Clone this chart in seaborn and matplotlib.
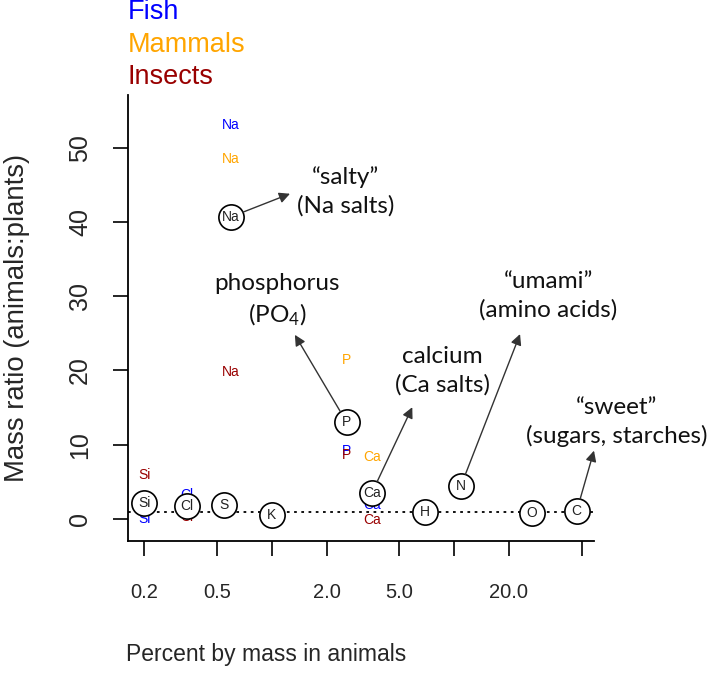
import numpy as np
import pandas as pd
import matplotlib
matplotlib.use("Agg")
import matplotlib.pyplot as plt
import seaborn as sns

# element values
elements = ['Si', 'Cl', 'S', 'K', 'Na', 'P', 'Ca', 'H', 'N', 'O', 'C']
pct_animals = [0.2, 0.343, 0.55, 1.0, 0.6, 2.58, 3.54, 6.9, 10.9, 26.6, 47.0]
ratio_all = [2.1, 1.75, 1.9, 0.55, 40.7, 13.0, 3.5, 1.0, 4.45, 0.8, 1.05]

fish_el = ['Si', 'Cl', 'Na', 'P', 'Ca']
fish_ratio = [0.0, 3.2, 53.1, 9.2, 1.9]
mammal_el = ['Na', 'P', 'Ca']
mammal_ratio = [48.5, 21.4, 8.4]
insect_el = ['Si', 'Cl', 'Na', 'P', 'Ca']
insect_ratio = [5.9, 0.3, 19.85, 8.6, -0.1]

x_ticks = [0.2, 0.5, 1, 2, 5, 10, 20, 50]
x_ticklabels = ['0.2', '0.5', '', '2.0', '5.0', '', '20.0', '']
y_ticks = [0, 10, 20, 30, 40, 50]

# annotations: text, element the arrow starts from, arrow tip, text centre
ann_text = ['\u201csalty\u201d\n(Na salts)', 'phosphorus\n(PO$\\mathregular{_4}$)',
            'calcium\n(Ca salts)', '\u201cumami\u201d\n(amino acids)',
            '\u201csweet\u201d\n(sugars, starches)']
ann_from = ['Na', 'P', 'Ca', 'N', 'C']
ann_tip_x = [1.26, 1.34, 5.9, 23.0, 58.5]
ann_tip_y = [43.8, 24.8, 15.05, 24.9, 9.2]
ann_text_x = [2.55, 1.07, 8.6, 32.8, 77.8]
ann_text_y = [44.1, 29.4, 20.0, 30.0, 13.1]

groups = [('Fish', 'blue', fish_el, fish_ratio),
          ('Mammals', 'orange', mammal_el, mammal_ratio),
          ('Insects', '#990000', insect_el, insect_ratio)]

sns.set_theme(style='white')
plt.rcParams['font.family'] = ['Liberation Sans', 'DejaVu Sans']
plt.rcParams['mathtext.default'] = 'regular'

df = pd.DataFrame({'element': elements, 'pct': pct_animals, 'ratio': ratio_all})
pos = dict(zip(elements, zip(pct_animals, ratio_all)))

fig = plt.figure(figsize=(7.09, 6.77), dpi=100)
ax = fig.add_axes([128/709, 1-541/677, 466/709, 446/677])
ax.set_xscale('log')
ax.set_xlim(0.163, 58.5)
ax.set_ylim(-2.97, 57.1)

ax.axhline(1, color='black', lw=1.3, ls=(0, (1.5, 2.5)), zorder=1)

# coloured labels per animal group
for name, col, els, vals in groups:
    for el, v in zip(els, vals):
        ax.text(pos[el][0], v, el, color=col, fontsize=10, ha='center', va='center', zorder=2)

sns.scatterplot(data=df, x='pct', y='ratio', ax=ax, s=330, marker='o',
                facecolor='white', edgecolor='black', linewidth=1.2, zorder=3)
for el, xv, yv in zip(elements, pct_animals, ratio_all):
    ax.text(xv, yv, el, fontsize=10, ha='center', va='center', color='#222222', zorder=4)

for txt, el, tx, ty, lx, ly in zip(ann_text, ann_from, ann_tip_x, ann_tip_y, ann_text_x, ann_text_y):
    ax.annotate('', xy=(tx, ty), xytext=pos[el],
                arrowprops=dict(arrowstyle='-|>', color='#333333', lw=1.0,
                                shrinkA=9, shrinkB=0, mutation_scale=16), zorder=5)
    ax.text(lx, ly, txt, ha='center', va='center', fontsize=17.5, family=['Lato', 'DejaVu Sans'],
            linespacing=1.4, color='#111111', clip_on=False)

# legend-like group names above the plot
for i, (name, col, els, vals) in enumerate(groups):
    fig.text(128/709, 1 - (12 + 32.5*i)/677, name, color=col, fontsize=19.5, ha='left', va='center')

ax.set_xticks(x_ticks)
ax.set_xticklabels(x_ticklabels, fontsize=14.5)
ax.xaxis.set_minor_locator(matplotlib.ticker.NullLocator())
ax.set_yticks(y_ticks)
ax.set_yticklabels([str(v) for v in y_ticks], rotation=90, va='center', fontsize=18)
ax.tick_params(axis='both', which='major', length=11, width=1.2, color='black',
               bottom=True, left=True)
ax.tick_params(axis='x', pad=19)
ax.tick_params(axis='y', pad=15)

for s in ['top', 'right']:
    ax.spines[s].set_visible(False)
for s in ['left', 'bottom']:
    ax.spines[s].set_color('black')
    ax.spines[s].set_linewidth(1.3)

ax.set_xlabel('Percent by mass in animals', fontsize=16.5)
ax.set_ylabel('Mass ratio (animals:plants)', fontsize=19.8)
ax.xaxis.set_label_coords((266.5-128)/466, (541-643)/446)
ax.yaxis.set_label_coords((30-128)/466, 0.5)

fig.savefig('out.png', dpi=100)
